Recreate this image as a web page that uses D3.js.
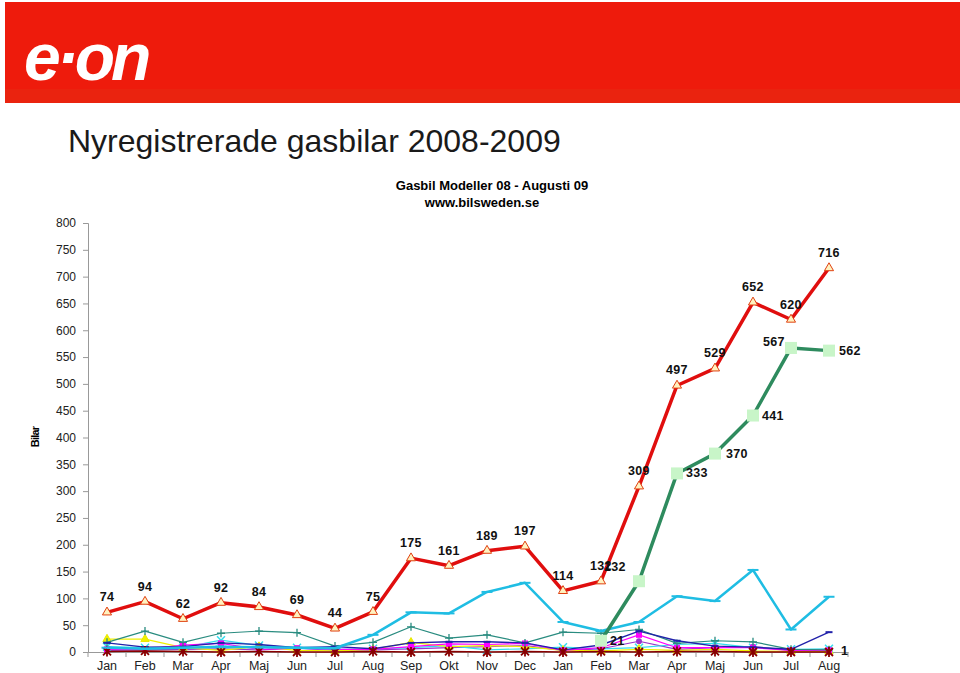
<!DOCTYPE html>
<html>
<head>
<meta charset="utf-8">
<script src="https://cdn.jsdelivr.net/npm/d3@7"></script>
<style>
  body { margin: 0; background: #fff; }
  svg { display: block; font-family: Arial, "Liberation Sans", sans-serif; }
</style>
</head>
<body>
<svg id="chart" width="960" height="673"></svg>
<script>
// data
var months = ["Jan","Feb","Mar","Apr","Maj","Jun","Jul","Aug","Sep","Okt","Nov","Dec",
              "Jan","Feb","Mar","Apr","Maj","Jun","Jul","Aug"];
var yTicks = [0,50,100,150,200,250,300,350,400,450,500,550,600,650,700,750,800];

var totalt    = [74,94,62,92,84,69,44,75,175,161,189,197,114,132,309,497,529,652,620,716];
var grona     = [null,null,null,null,null,null,null,null,null,null,null,null,null,21,132,333,370,441,567,562];
var ljusbla   = [8,6,8,10,9,8,7,32,74,72,112,129,56,39,56,104,95,153,42,103];
var teal      = [18,39,18,35,39,36,11,18,47,26,32,17,37,35,42,16,21,19,5,4];
var morkbla   = [17,9,10,17,14,8,10,6,17,19,19,17,4,13,39,21,11,9,5,37];
var magenta   = [5,5,13,16,5,7,5,5,10,15,14,16,3,8,32,8,8,8,3,3];
var gul       = [24,24,8,3,10,3,2,5,18,10,12,10,3,2,5,3,5,2,1,1];
var turkos    = [10,8,8,22,12,8,5,6,8,12,4,6,9,6,8,14,16,8,5,6];
var lila      = [3,4,5,6,4,7,3,4,6,8,10,12,3,6,20,5,8,10,3,5];
var brun      = [1,2,1,0,1,0,0,1,0,1,0,1,0,1,0,1,1,0,0,0];

var svg = d3.select("#chart");

// header
svg.append("rect").attr("x", 5).attr("y", 2).attr("width", 955).attr("height", 101).attr("fill", "#EE1B0C");
svg.append("rect").attr("x", 5).attr("y", 89).attr("width", 955).attr("height", 14).attr("fill", "#EA230F");
svg.append("text")
  .attr("x", 24).attr("y", 80)
  .attr("fill", "#fff")
  .style("font-size", "66px").style("font-weight", "bold").style("font-style", "italic")
  .style("letter-spacing", "-4px")
  .text("e·on");

svg.append("text")
  .attr("x", 68).attr("y", 152)
  .attr("fill", "#1a1a1a")
  .style("font-size", "32px")
  .text("Nyregistrerade gasbilar 2008-2009");

svg.append("text").attr("x", 492).attr("y", 190).attr("text-anchor", "middle")
  .style("font-size", "13px").style("font-weight", "bold").text("Gasbil Modeller 08 - Augusti 09");
svg.append("text").attr("x", 482).attr("y", 207).attr("text-anchor", "middle")
  .style("font-size", "13px").style("font-weight", "bold").text("www.bilsweden.se");

// scales
var x = d3.scaleBand().domain(d3.range(months.length)).range([88, 848]);
var y = d3.scaleLinear().domain([0, 800]).range([652, 223]);
function cx(i){ return x(i) + x.bandwidth() / 2; }

// y axis
var yAxis = svg.append("g").attr("transform", "translate(88,0)")
  .call(d3.axisLeft(y).tickValues(yTicks).tickSize(5).tickPadding(7));
yAxis.select(".domain").attr("stroke", "#999");
yAxis.selectAll(".tick line").attr("stroke", "#999");
yAxis.selectAll(".tick text").style("font-size", "12px").attr("fill", "#222").style("font-family", "Arial, 'Liberation Sans', sans-serif");

svg.append("text")
  .attr("transform", "translate(39,437) rotate(-90)")
  .attr("text-anchor", "middle")
  .style("font-size", "11px").style("font-weight", "bold").style("letter-spacing", "-0.8px")
  .text("Bilar");

// x axis
var xAxis = svg.append("g").attr("transform", "translate(0,652)")
  .call(d3.axisBottom(x).tickSize(0).tickPadding(9).tickFormat(function(i){ return months[i]; }));
xAxis.select(".domain").attr("stroke", "#999");
xAxis.selectAll(".tick text").style("font-size", "12.5px").attr("fill", "#222").style("font-family", "Arial, 'Liberation Sans', sans-serif");
svg.append("g").selectAll("line")
  .data(d3.range(months.length + 1))
  .enter().append("line")
  .attr("x1", function(i){ return 88 + i * x.step(); })
  .attr("x2", function(i){ return 88 + i * x.step(); })
  .attr("y1", 652).attr("y2", 657)
  .attr("stroke", "#999");

// series drawing
var line = d3.line()
  .defined(function(d){ return d != null; })
  .x(function(d, i){ return cx(i); })
  .y(function(d){ return y(d); });

function drawSeries(data, color, width, marker) {
  var g = svg.append("g");
  g.append("path").datum(data)
    .attr("d", line)
    .attr("fill", "none")
    .attr("stroke", color)
    .attr("stroke-width", width)
    .attr("stroke-linejoin", "round");
  var pts = data.map(function(d, i){ return {v: d, i: i}; }).filter(function(p){ return p.v != null; });
  var m = g.selectAll(".m").data(pts).enter().append("g")
    .attr("transform", function(p){ return "translate(" + cx(p.i) + "," + y(p.v) + ")"; });
  marker(m, color);
  return g;
}

function triMarker(fill, stroke, size) {
  return function(m){
    m.append("path").attr("d", d3.symbol(d3.symbolTriangle, size)())
      .attr("fill", fill).attr("stroke", stroke).attr("stroke-width", 1);
  };
}
function sqMarker(fill, size) {
  return function(m, c){
    m.append("rect").attr("x", -size/2).attr("y", -size/2).attr("width", size).attr("height", size)
      .attr("fill", fill || c);
  };
}
function dashMarker(w) {
  return function(m, c){
    m.append("line").attr("x1", -w/2).attr("x2", w/2).attr("stroke", c).attr("stroke-width", 2);
  };
}
function plusMarker(m, c) {
  m.append("path").attr("d", "M-4,0H4M0,-4V4").attr("stroke", c).attr("stroke-width", 1.3);
}
function xMarker(m, c) {
  m.append("path").attr("d", "M-4,-4L4,4M-4,4L4,-4").attr("stroke", c).attr("stroke-width", 1.5);
}
function starMarker(m, c) {
  m.append("path").attr("d", "M-4,-4L4,4M-4,4L4,-4M0,-5V5").attr("stroke", c).attr("stroke-width", 1.8);
}
function circMarker(m, c) {
  m.append("circle").attr("r", 3).attr("fill", c);
}

// small series first
drawSeries(lila, "#9933CC", 1.2, circMarker);
drawSeries(turkos, "#33DDEE", 1.2, xMarker);
drawSeries(gul, "#F0F000", 1.2, triMarker("#F0F000", "#E8E800", 30));
drawSeries(magenta, "#FF00FF", 1.2, sqMarker(null, 6));
drawSeries(teal, "#2A8C80", 1.2, plusMarker);
drawSeries(morkbla, "#2222AA", 1.4, dashMarker(7));
drawSeries(brun, "#880000", 1.5, starMarker);
drawSeries(ljusbla, "#1FBDE3", 2.5, dashMarker(11));
drawSeries(grona, "#2E8B5E", 3.5, sqMarker("#C8F5C8", 12));
drawSeries(totalt, "#E00E0E", 3.5, triMarker("#FFF2C0", "#E04010", 36));

// labels
var lbl = svg.append("g").style("font-size", "12.5px").style("font-weight", "bold")
  .style("letter-spacing", "0.3px").attr("fill", "#111");
lbl.selectAll(".r").data(totalt).enter().append("text")
  .attr("x", function(d, i){ return cx(i); })
  .attr("y", function(d){ return y(d) - 11; })
  .attr("text-anchor", "middle")
  .text(function(d){ return d; });

// green label offsets: [dx, dy, anchor]
var greenLbl = {13: [9, 4, "start"], 14: [-24, -10, "middle"], 15: [9, 4, "start"], 16: [11, 4, "start"],
                17: [9, 4, "start"], 18: [-17, -2, "middle"], 19: [10, 4, "start"]};
grona.forEach(function(d, i){
  if (d == null) return;
  var o = greenLbl[i];
  lbl.append("text")
    .attr("x", cx(i) + o[0]).attr("y", y(d) + o[1])
    .attr("text-anchor", o[2])
    .text(d);
});
lbl.append("text").attr("x", cx(19) + 12).attr("y", y(gul[19]) + 4).text(gul[19]);
</script>
</body>
</html>
